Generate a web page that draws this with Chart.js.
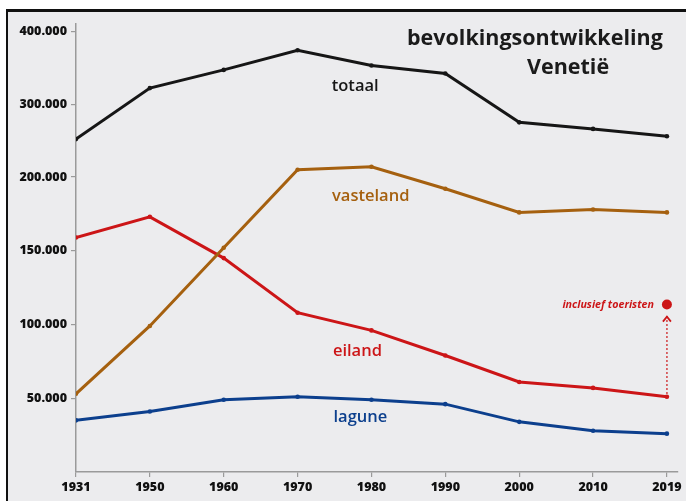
<!DOCTYPE html>
<html>
<head>
<meta charset="utf-8">
<script src="https://cdn.jsdelivr.net/npm/chart.js@4.4.1/dist/chart.umd.min.js"></script>
<style>
  html, body { margin: 0; padding: 0; background: #fff; }
  body { width: 686px; height: 501px; position: relative; overflow: hidden; font-family: "Open Sans", sans-serif; }
  #frame {
    position: absolute; left: 6px; top: 9px; width: 680px; height: 492px;
    border-left: 2px solid #111; border-top: 3px solid #111;
    background: #ececee;
  }
  #chart { position: absolute; left: 0; top: 0; }
  .title { position: absolute; font-weight: 700; font-size: 21.5px; line-height: 28px; color: #1b1b1b; white-space: nowrap; }
</style>
</head>
<body>
<div id="frame">
  <canvas id="chart" width="678" height="489"></canvas>
  <div class="title" style="left:399px; top:11px;">bevolkingsontwikkeling</div>
  <div class="title" style="left:519px; top:40px;">Venetië</div>
</div>
<script>
// data
const years = ['1931', '1950', '1960', '1970', '1980', '1990', '2000', '2010', '2019'];
const totaal    = [252000, 322000, 347000, 374000, 353000, 342000, 275000, 266000, 256000];
const vasteland = [53000, 99000, 152000, 210000, 214000, 192000, 176000, 178000, 176000];
const eiland    = [159000, 173000, 145000, 108000, 96000, 79000, 61000, 57000, 51000];
const lagune    = [35000, 41000, 49000, 51000, 49000, 46000, 34000, 28000, 26000];
const eilandInclToeristen2019 = 113500;
const yTickValues = [50000, 100000, 150000, 200000, 300000, 400000];

// the y axis of the original is broken: 50.000 per step up to 200.000, then 100.000 per step
const Y_BREAK = 200000;
const Y_MAX = 410000;
const LOWER_PART = 0.6585;

function toDecimal(v) {
    if (v <= Y_BREAK) return v / Y_BREAK * LOWER_PART;
    return LOWER_PART + (v - Y_BREAK) / (Y_MAX - Y_BREAK) * (1 - LOWER_PART);
}
function fromDecimal(d) {
    if (d <= LOWER_PART) return d / LOWER_PART * Y_BREAK;
    return Y_BREAK + (d - LOWER_PART) / (1 - LOWER_PART) * (Y_MAX - Y_BREAK);
}

class BrokenScale extends Chart.LinearScale {
    getPixelForValue(value) {
        return this.getPixelForDecimal(toDecimal(value));
    }
    getValueForPixel(pixel) {
        return fromDecimal(this.getDecimalForPixel(pixel));
    }
}
BrokenScale.id = 'broken';
BrokenScale.defaults = {};
Chart.register(BrokenScale);

function points(arr) {
    return arr.map((v, i) => ({ x: i, y: v }));
}

function dotted(n) {
    return n.toString().replace(/\B(?=(\d{3})+(?!\d))/g, '.');
}

const FONT = '"Open Sans", sans-serif';
const BLACK = '#161616', BROWN = '#a5600f', RED = '#cc1517', BLUE = '#0c3f8d';

const seriesLabels = [
    { text: 'totaal',    color: BLACK, x: 3.78, y: 325000 },
    { text: 'vasteland', color: BROWN, x: 3.99, y: 187000 },
    { text: 'eiland',    color: RED,   x: 3.81, y: 82000 },
    { text: 'lagune',    color: BLUE,  x: 3.85, y: 37000 }
];

const labelPlugin = {
    id: 'labels',
    afterDatasetsDraw(chart) {
        const ctx = chart.ctx;
        const xs = chart.scales.x, ys = chart.scales.y;
        ctx.save();
        ctx.textAlign = 'center';
        ctx.textBaseline = 'middle';
        ctx.font = '600 16.5px ' + FONT;
        seriesLabels.forEach(l => {
            ctx.fillStyle = l.color;
            ctx.fillText(l.text, xs.getPixelForValue(l.x), ys.getPixelForValue(l.y));
        });

        // dotted arrow: eiland 2019 -> incl. toeristen
        const last = years.length - 1;
        const px = xs.getPixelForValue(last);
        const yFrom = ys.getPixelForValue(eiland[last]);
        const yTo = ys.getPixelForValue(eilandInclToeristen2019);
        ctx.strokeStyle = RED;
        ctx.lineWidth = 1.6;
        ctx.setLineDash([1.6, 2.4]);
        ctx.beginPath();
        ctx.moveTo(px, yFrom - 3);
        ctx.lineTo(px, yTo + 11);
        ctx.stroke();
        ctx.setLineDash([]);
        ctx.lineWidth = 1.8;
        ctx.beginPath();
        ctx.moveTo(px - 4, yTo + 17);
        ctx.lineTo(px, yTo + 12);
        ctx.lineTo(px + 4, yTo + 17);
        ctx.stroke();

        ctx.fillStyle = RED;
        ctx.textAlign = 'right';
        ctx.font = 'italic 700 10.7px ' + FONT;
        ctx.fillText('inclusief toeristen', px - 13, yTo);
        ctx.restore();
    }
};

const lineStyle = (color) => ({
    borderColor: color,
    backgroundColor: color,
    pointBackgroundColor: color,
    borderWidth: 3,
    pointRadius: 2.3,
    pointBorderWidth: 0,
    tension: 0,
    fill: false
});

new Chart(document.getElementById('chart'), {
    type: 'line',
    data: {
        datasets: [
            { label: 'totaal', data: points(totaal), ...lineStyle(BLACK) },
            { label: 'vasteland', data: points(vasteland), ...lineStyle(BROWN) },
            { label: 'eiland', data: points(eiland), ...lineStyle(RED) },
            { label: 'lagune', data: points(lagune), ...lineStyle(BLUE) },
            {
                label: 'inclusief toeristen',
                data: [{ x: years.length - 1, y: eilandInclToeristen2019 }],
                showLine: false,
                pointRadius: 5,
                pointBorderWidth: 0,
                pointBackgroundColor: RED,
                borderColor: RED
            }
        ]
    },
    options: {
        responsive: false,
        devicePixelRatio: 1,
        animation: false,
        layout: { padding: { top: 12, right: 8, left: 0, bottom: 0 } },
        plugins: { legend: { display: false }, tooltip: { enabled: false } },
        scales: {
            x: {
                type: 'linear',
                min: 0,
                max: 8.15,
                afterBuildTicks: (scale) => { scale.ticks = years.map((y, i) => ({ value: i })); },
                afterFit: (scale) => { scale.height = 29; },
                grid: { drawOnChartArea: false, drawTicks: true, tickLength: 5, color: '#9a9a9a', lineWidth: 1.2 },
                border: { color: '#9a9a9a', width: 1.5 },
                ticks: {
                    padding: 3,
                    color: '#111',
                    font: { family: FONT, size: 12.5, weight: '800' },
                    callback: (v, i) => years[i]
                }
            },
            y: {
                type: 'broken',
                min: 0,
                max: Y_MAX,
                afterBuildTicks: (scale) => { scale.ticks = yTickValues.map(v => ({ value: v })); },
                afterFit: (scale) => { scale.width = 68; },
                grid: { drawOnChartArea: false, drawTicks: true, tickLength: 5, color: '#9a9a9a', lineWidth: 1.2 },
                border: { color: '#9a9a9a', width: 1.5 },
                ticks: {
                    padding: 4,
                    color: '#111',
                    font: { family: FONT, size: 12.5, weight: '800' },
                    callback: (v) => dotted(v)
                }
            }
        }
    },
    plugins: [labelPlugin]
});
</script>
</body>
</html>
